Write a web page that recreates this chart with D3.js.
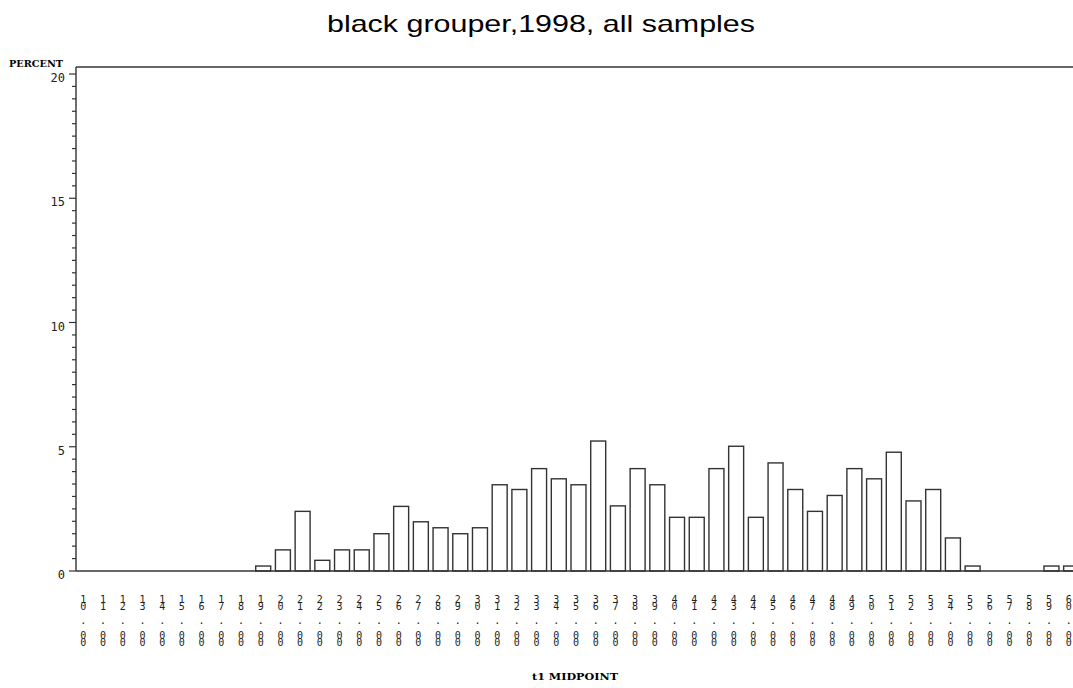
<!DOCTYPE html>
<html>
<head>
<meta charset="utf-8">
<script src="https://cdn.jsdelivr.net/npm/d3@7"></script>
<style>
  body { margin: 0; background: #fff; }
  svg { display: block; }
  .xlab { writing-mode: vertical-rl; text-orientation: upright; }
</style>
</head>
<body>
<script>
// black grouper 1998 - percent of samples by t1 midpoint
const midpoints = [10, 11, 12, 13, 14, 15, 16, 17, 18, 19,
                   20, 21, 22, 23, 24, 25, 26, 27, 28, 29,
                   30, 31, 32, 33, 34, 35, 36, 37, 38, 39,
                   40, 41, 42, 43, 44, 45, 46, 47, 48, 49,
                   50, 51, 52, 53, 54, 55, 56, 57, 58, 59, 60]
const percents = [0, 0, 0, 0, 0, 0, 0, 0, 0, 0.2,
                  0.85, 2.4, 0.43, 0.85, 0.85, 1.5, 2.6, 1.98, 1.74, 1.5,
                  1.74, 3.47, 3.28, 4.12, 3.71, 3.47, 5.23, 2.62, 4.12, 3.47,
                  2.16, 2.16, 4.12, 5.02, 2.16, 4.35, 3.28, 2.4, 3.04, 4.12,
                  3.71, 4.78, 2.82, 3.28, 1.33, 0.2, 0, 0, 0, 0.2, 0.2]
const yTicks = [0, 5, 10, 15, 20]

const w = 1073, h = 688
const margin = {left: 76, right: -8, top: 67, bottom: 117}
const ink = "#333"

const svg = d3.select("body").append("svg")
    .attr("width", w)
    .attr("height", h)

const x = d3.scaleBand()
    .domain(midpoints)
    .range([margin.left, w - margin.right])
    .paddingInner(0.24)
    .paddingOuter(0.12)

const y = d3.scaleLinear()
    .domain([0, 20])
    .range([571, 74])

// title (wide sans, stretched to the reference width)
svg.append("text")
    .attr("x", 541).attr("y", 32)
    .attr("text-anchor", "middle")
    .attr("font-family", "Liberation Sans, Arial, sans-serif")
    .attr("font-size", 24)
    .attr("textLength", 428)
    .attr("lengthAdjust", "spacingAndGlyphs")
    .text("black grouper,1998, all samples")

// frame: top line, y axis line
svg.append("line")
    .attr("x1", margin.left).attr("x2", w)
    .attr("y1", margin.top).attr("y2", margin.top)
    .attr("stroke", ink).attr("stroke-width", 1.4)
svg.append("line")
    .attr("x1", margin.left).attr("x2", margin.left)
    .attr("y1", margin.top).attr("y2", y(0))
    .attr("stroke", ink).attr("stroke-width", 1.4)

// bars
svg.selectAll("rect.bar")
    .data(percents)
    .enter()
    .append("rect")
    .attr("class", "bar")
    .attr("x", (d, i) => x(midpoints[i]))
    .attr("y", d => y(d))
    .attr("width", x.bandwidth())
    .attr("height", d => y(0) - y(d))
    .attr("fill", "#fff")
    .attr("stroke", ink)
    .attr("stroke-width", 1.4)

svg.append("line")
    .attr("x1", margin.left).attr("x2", w)
    .attr("y1", y(0)).attr("y2", y(0))
    .attr("stroke", ink).attr("stroke-width", 1.4)

// y axis: major ticks with labels, minor ticks every 0.5
const minor = y.ticks(40).filter(t => yTicks.indexOf(t) < 0)
svg.selectAll("line.minor")
    .data(minor)
    .enter()
    .append("line")
    .attr("class", "minor")
    .attr("x1", margin.left - 4).attr("x2", margin.left)
    .attr("y1", d => y(d)).attr("y2", d => y(d))
    .attr("stroke", ink).attr("stroke-width", 1.2)

svg.selectAll("line.major")
    .data(yTicks)
    .enter()
    .append("line")
    .attr("class", "major")
    .attr("x1", margin.left - 7).attr("x2", margin.left)
    .attr("y1", d => y(d)).attr("y2", d => y(d))
    .attr("stroke", ink).attr("stroke-width", 1.2)

svg.selectAll("text.ylab")
    .data(yTicks)
    .enter()
    .append("text")
    .attr("class", "ylab")
    .attr("x", 65)
    .attr("y", d => y(d) + 8)
    .attr("text-anchor", "end")
    .attr("font-family", "DejaVu Sans Mono, monospace")
    .attr("font-size", 12)
    .attr("fill", "#222")
    .text(d => d)

svg.append("text")
    .attr("x", 9).attr("y", 67)
    .attr("font-family", "DejaVu Serif, serif")
    .attr("font-weight", "bold")
    .attr("font-size", 9)
    .attr("textLength", 54)
    .attr("lengthAdjust", "spacingAndGlyphs")
    .text("PERCENT")

// x labels written top to bottom, one text per label
svg.selectAll("text.xlab")
    .data(midpoints)
    .enter()
    .append("text")
    .attr("class", "xlab")
    .attr("x", d => x(d) + x.bandwidth() / 2 - 2.5)
    .attr("y", 594)
    .attr("font-family", "DejaVu Sans Mono, monospace")
    .attr("font-size", 10)
    .attr("letter-spacing", -3.9)
    .attr("fill", "#222")
    .text(d => {
        const s = d.toFixed(2)
        return s.slice(0, 2) + "\u00a0.\u00a0" + s.slice(3)
    })

svg.append("text")
    .attr("x", 575).attr("y", 680)
    .attr("text-anchor", "middle")
    .attr("font-family", "DejaVu Serif, serif")
    .attr("font-weight", "bold")
    .attr("font-size", 9)
    .attr("textLength", 86)
    .attr("lengthAdjust", "spacingAndGlyphs")
    .text("t1 MIDPOINT")
</script>
</body>
</html>
